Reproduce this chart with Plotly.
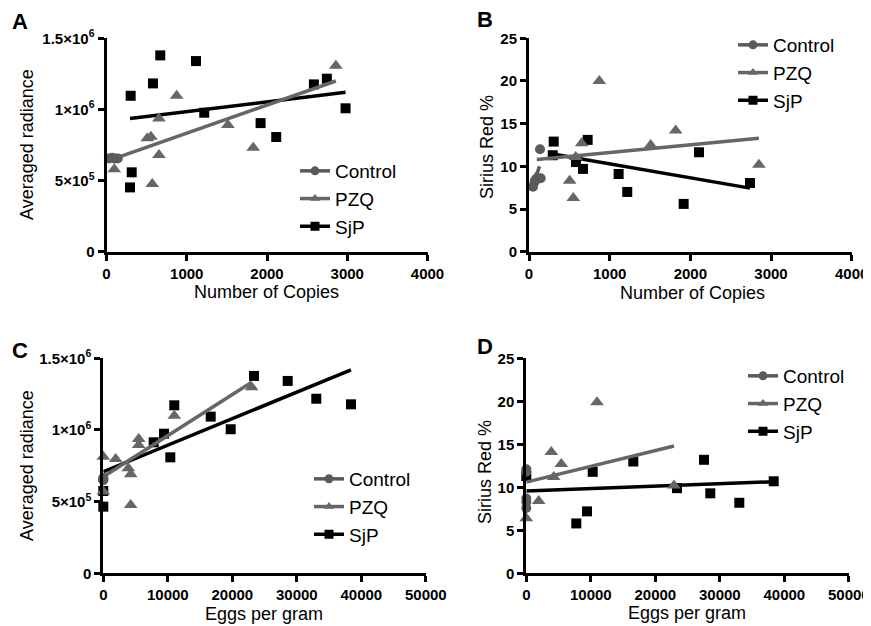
import plotly.graph_objects as go

FONT = "Arial, 'Liberation Sans', Helvetica, sans-serif"
GRAY = "#5a5a5a"
GRAY2 = "#666666"
BLACK = "#000000"

# ---------------- Panel A : Number of Copies vs Averaged radiance ----------------
a_ctrl_x = [30, 70, 100, 140]
a_ctrl_y = [655000, 660000, 655000, 655000]
a_pzq_x = [97, 508, 554, 570, 654, 654, 874, 1513, 1828, 2858]
a_pzq_y = [579000, 797000, 808000, 476000, 937000, 680000, 1096000, 890000, 731000, 1307000]
a_sjp_x = [293, 301, 314, 579, 670, 1115, 1218, 1920, 2115, 2584, 2746, 2979]
a_sjp_y = [452000, 1096000, 558000, 1183000, 1380000, 1340000, 977000, 904000, 806000, 1176000, 1216000, 1008000]
a_ctrl_fit_x = [30, 140]
a_ctrl_fit_y = [656000, 656000]
a_pzq_fit_x = [97, 2858]
a_pzq_fit_y = [654000, 1200000]
a_sjp_fit_x = [293, 2979]
a_sjp_fit_y = [937000, 1120000]

# ---------------- Panel B : Number of Copies vs Sirius Red % ----------------
b_ctrl_x = [50, 70, 90, 136, 145]
b_ctrl_y = [7.6, 8.2, 8.5, 12.0, 8.6]
b_pzq_x = [97, 504, 549, 579, 653, 871, 1508, 1818, 2850]
b_pzq_y = [8.8, 8.3, 6.3, 11.1, 12.7, 20.0, 12.5, 14.2, 10.2]
b_sjp_x = [294, 306, 582, 669, 727, 1111, 1218, 1917, 2107, 2739]
b_sjp_y = [11.3, 12.9, 10.5, 9.7, 13.1, 9.1, 7.0, 5.6, 11.65, 8.05]
b_ctrl_fit_x = [55, 130]
b_ctrl_fit_y = [7.9, 10.0]
b_pzq_fit_x = [97, 2850]
b_pzq_fit_y = [10.8, 13.3]
b_sjp_fit_x = [294, 2739]
b_sjp_fit_y = [11.45, 7.45]

# ---------------- Panel C : Eggs per gram vs Averaged radiance ----------------
c_ctrl_x = [0, 0, 0, 0]
c_ctrl_y = [650000, 655000, 660000, 665000]
c_pzq_x = [0, 0, 1917, 3876, 4248, 4248, 5488, 5488, 11008, 23000]
c_pzq_y = [814000, 570000, 797000, 733000, 691000, 477000, 937000, 895000, 1100000, 1298000]
c_sjp_x = [0, 0, 7814, 9411, 10388, 11008, 16651, 19752, 23364, 28589, 33023, 38403]
c_sjp_y = [574000, 465000, 914000, 974000, 809000, 1172000, 1093000, 1005000, 1377000, 1342000, 1218000, 1179000]
c_pzq_fit_x = [0, 23000]
c_pzq_fit_y = [674000, 1333000]
c_sjp_fit_x = [0, 38403]
c_sjp_fit_y = [709000, 1419000]

# ---------------- Panel D : Eggs per gram vs Sirius Red % ----------------
d_ctrl_x = [0, 0, 0, 0, 0]
d_ctrl_y = [12.1, 11.8, 8.7, 8.3, 7.6]
d_pzq_x = [0, 1917, 3876, 4248, 5426, 10961, 22899]
d_pzq_y = [6.4, 8.4, 14.1, 11.2, 12.7, 19.9, 10.2]
d_sjp_x = [0, 7752, 9411, 10295, 16589, 23364, 27550, 28527, 33023, 38356]
d_sjp_y = [11.3, 5.8, 7.2, 11.8, 13.0, 9.9, 13.2, 9.3, 8.2, 10.7]
d_pzq_fit_x = [0, 22899]
d_pzq_fit_y = [10.6, 14.8]
d_sjp_fit_x = [0, 38356]
d_sjp_fit_y = [9.57, 10.65]

# ---------------- ticks ----------------
rad_vals = [0, 500000, 1000000, 1500000]
rad_text = ["0", "5×10<sup>5</sup>", "1×10<sup>6</sup>", "1.5×10<sup>6</sup>"]
sr_vals = [0, 5, 10, 15, 20, 25]
sr_text = ["0", "5", "10", "15", "20", "25"]
copies_vals = [0, 1000, 2000, 3000, 4000]
copies_text = ["0", "1000", "2000", "3000", "4000"]
epg_vals = [0, 10000, 20000, 30000, 40000, 50000]
epg_text = ["0", "10000", "20000", "30000", "40000", "50000"]

groups = ["Control", "PZQ", "SjP"]
symbols = {"Control": "circle", "PZQ": "triangle-up", "SjP": "square"}
sizes = {"Control": 10, "PZQ": 12, "SjP": 10}
colors = {"Control": GRAY, "PZQ": GRAY2, "SjP": BLACK}

panels = [
    dict(ax="", leg="legend",
         pts={"Control": (a_ctrl_x, a_ctrl_y), "PZQ": (a_pzq_x, a_pzq_y), "SjP": (a_sjp_x, a_sjp_y)},
         fits={"Control": (a_ctrl_fit_x, a_ctrl_fit_y), "PZQ": (a_pzq_fit_x, a_pzq_fit_y), "SjP": (a_sjp_fit_x, a_sjp_fit_y)}),
    dict(ax="2", leg="legend2",
         pts={"Control": (b_ctrl_x, b_ctrl_y), "PZQ": (b_pzq_x, b_pzq_y), "SjP": (b_sjp_x, b_sjp_y)},
         fits={"Control": (b_ctrl_fit_x, b_ctrl_fit_y), "PZQ": (b_pzq_fit_x, b_pzq_fit_y), "SjP": (b_sjp_fit_x, b_sjp_fit_y)}),
    dict(ax="3", leg="legend3",
         pts={"Control": (c_ctrl_x, c_ctrl_y), "PZQ": (c_pzq_x, c_pzq_y), "SjP": (c_sjp_x, c_sjp_y)},
         fits={"PZQ": (c_pzq_fit_x, c_pzq_fit_y), "SjP": (c_sjp_fit_x, c_sjp_fit_y)}),
    dict(ax="4", leg="legend4",
         pts={"Control": (d_ctrl_x, d_ctrl_y), "PZQ": (d_pzq_x, d_pzq_y), "SjP": (d_sjp_x, d_sjp_y)},
         fits={"PZQ": (d_pzq_fit_x, d_pzq_fit_y), "SjP": (d_sjp_fit_x, d_sjp_fit_y)}),
]

fig = go.Figure()
draw_order = ["SjP", "PZQ", "Control"]
for p in panels:
    xa, ya = "x" + p["ax"], "y" + p["ax"]
    for g in draw_order:
        if g in p["fits"]:
            fx, fy = p["fits"][g]
            fig.add_trace(go.Scatter(x=fx, y=fy, mode="lines", xaxis=xa, yaxis=ya,
                                     line=dict(color=colors[g], width=3.5),
                                     showlegend=False, cliponaxis=False, hoverinfo="skip"))
        px, py = p["pts"][g]
        fig.add_trace(go.Scatter(x=px, y=py, mode="markers", xaxis=xa, yaxis=ya,
                                 marker=dict(symbol=symbols[g], size=sizes[g], color=colors[g]),
                                 showlegend=False, cliponaxis=False, name=g))
    # legend entries (line + marker symbol)
    for g in groups:
        fig.add_trace(go.Scatter(x=[None], y=[None], mode="lines+markers", xaxis=xa, yaxis=ya,
                                 name=g, legend=p["leg"],
                                 line=dict(color=colors[g], width=3.5),
                                 marker=dict(symbol=symbols[g], size=9, color=colors[g])))

# the page body adds an 8px margin, so the figure is drawn 8px smaller and
# every reference pixel position is shifted by that offset
OFF = 8
W, H = 871 - OFF, 626 - OFF
def dx(a, b):
    return [(a - OFF) / W, (b - OFF) / W]
def dy(top, bottom):
    return [1 - (bottom - OFF) / H, 1 - (top - OFF) / H]

def bold(lst):
    return ["<b>%s</b>" % t for t in lst]

tickfont = dict(family=FONT, size=15, color="black")
common = dict(showline=True, linewidth=3, linecolor="black", ticks="outside", ticklen=6,
              tickwidth=3, tickcolor="black", showgrid=False, zeroline=False,
              tickfont=tickfont, fixedrange=True, automargin=False, tickmode="array")

layout = dict(
    width=W, height=H, margin=dict(l=0, r=0, t=0, b=0, pad=0, autoexpand=False),
    paper_bgcolor="white", plot_bgcolor="white", showlegend=True,
    font=dict(family=FONT, color="black"),
    xaxis=dict(common, domain=dx(106.5, 427.5), range=[0, 4000], tickvals=copies_vals, ticktext=bold(copies_text), anchor="y"),
    yaxis=dict(common, domain=dy(38.3, 251.7), range=[0, 1500000], tickvals=rad_vals, ticktext=bold(rad_text), anchor="x"),
    xaxis2=dict(common, domain=dx(529, 851.7), range=[0, 4000], tickvals=copies_vals, ticktext=bold(copies_text), anchor="y2"),
    yaxis2=dict(common, domain=dy(38.3, 251.7), range=[0, 25], tickvals=sr_vals, ticktext=bold(sr_text), anchor="x2"),
    xaxis3=dict(common, domain=dx(103.3, 425.8), range=[0, 50000], tickvals=epg_vals, ticktext=bold(epg_text), anchor="y3"),
    yaxis3=dict(common, domain=dy(358.3, 573.3), range=[0, 1500000], tickvals=rad_vals, ticktext=bold(rad_text), anchor="x3"),
    xaxis4=dict(common, domain=dx(526.3, 848.8), range=[0, 50000], tickvals=epg_vals, ticktext=bold(epg_text), anchor="y4"),
    yaxis4=dict(common, domain=dy(358.3, 573.3), range=[0, 25], tickvals=sr_vals, ticktext=bold(sr_text), anchor="x4"),
)

legfont = dict(family=FONT, size=19, color="black")
def leg(xpx, ypx):
    return dict(x=(xpx - OFF) / W, y=1 - (ypx - OFF) / H, xanchor="left", yanchor="top", font=legfont,
                bgcolor="rgba(0,0,0,0)", borderwidth=0, traceorder="normal",
                itemwidth=30, tracegroupgap=0)
layout["legend"] = leg(295, 152)
layout["legend2"] = leg(733, 26)
layout["legend3"] = leg(309, 460)
layout["legend4"] = leg(743, 357)

annotations = []
def txt(x, y, s, size, isbold=False, angle=0):
    annotations.append(dict(x=(x - OFF) / W, y=1 - (y - OFF) / H, xref="paper", yref="paper",
                            text=("<b>%s</b>" % s) if isbold else s,
                            showarrow=False, xanchor="center", yanchor="middle", textangle=angle,
                            font=dict(family=FONT, size=size, color="black")))

txt(20, 21, "A", 22, True)
txt(485, 20, "B", 22, True)
txt(20, 350, "C", 22, True)
txt(485, 346, "D", 22, True)
txt(266, 292, "Number of Copies", 18)
txt(692, 293, "Number of Copies", 18)
txt(264, 614, "Eggs per gram", 18)
txt(687, 613, "Eggs per gram", 18)
txt(27, 145, "Averaged radiance", 18, angle=-90)
txt(487, 147, "Sirius Red %", 18, angle=-90)
txt(27, 466, "Averaged radiance", 18, angle=-90)
txt(485, 472, "Sirius Red %", 18, angle=-90)
layout["annotations"] = annotations

fig.update_layout(layout)
fig.write_html("out.html")
